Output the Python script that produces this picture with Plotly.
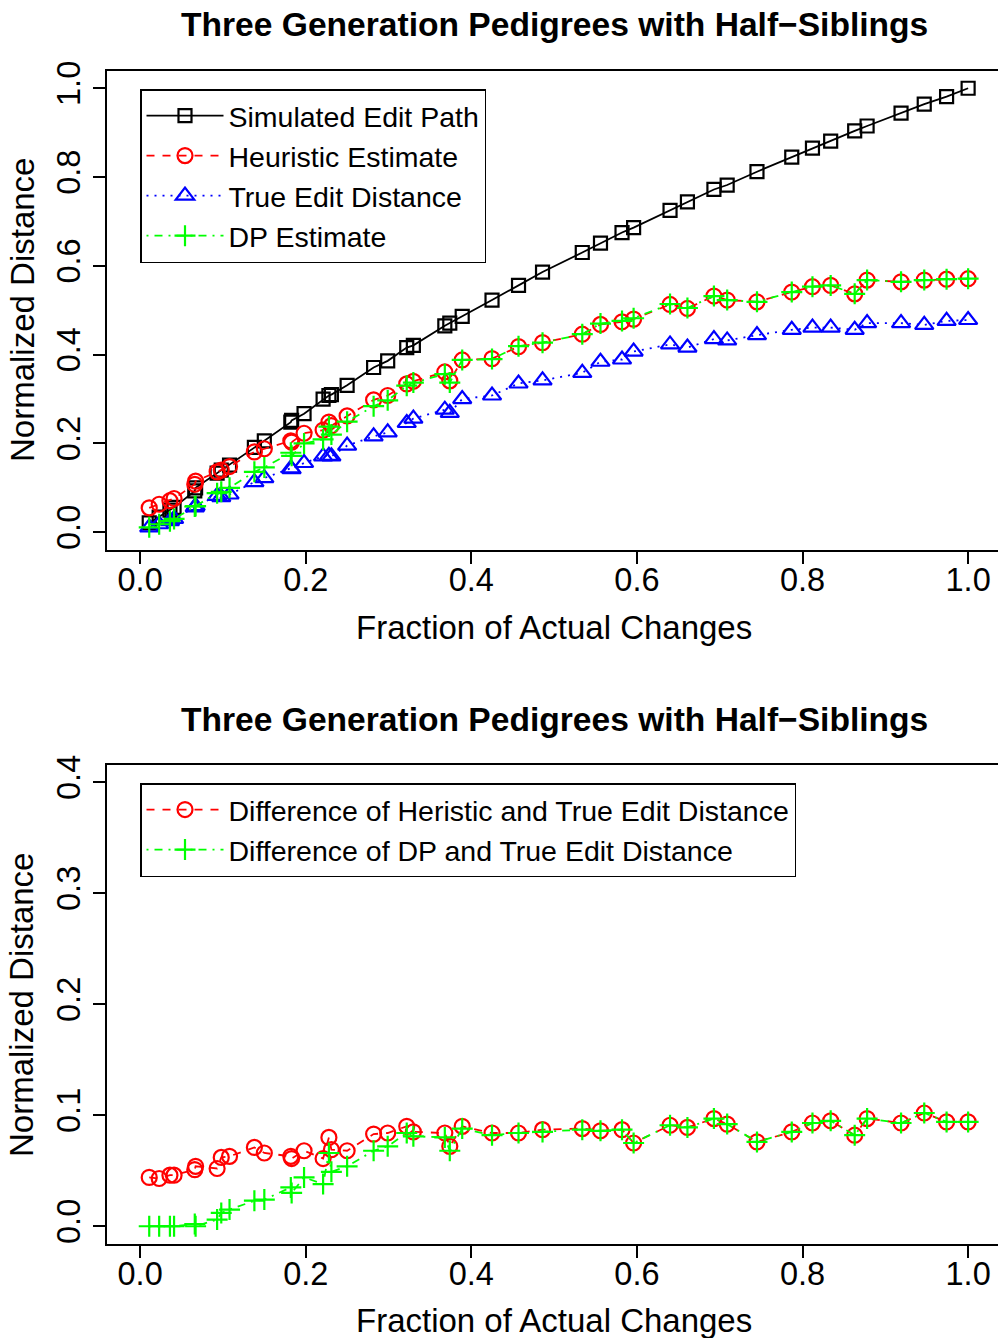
import plotly.graph_objects as go

# ---------------- data ----------------
frac_changes = [0.011, 0.023, 0.036, 0.041, 0.066, 0.067, 0.093, 0.098, 0.108, 0.138,
                0.150, 0.182, 0.183, 0.198, 0.221, 0.228, 0.231, 0.250, 0.282, 0.299,
                0.322, 0.330, 0.368, 0.374, 0.389, 0.425, 0.457, 0.486, 0.534, 0.556,
                0.582, 0.596, 0.640, 0.661, 0.693, 0.709, 0.745, 0.787, 0.812, 0.834,
                0.863, 0.878, 0.919, 0.947, 0.974, 1.000]

simulated_edit_path = [0.021, 0.034, 0.050, 0.056, 0.093, 0.100, 0.133, 0.140, 0.151, 0.191,
                       0.206, 0.248, 0.252, 0.267, 0.300, 0.308, 0.310, 0.331, 0.371, 0.386,
                       0.416, 0.421, 0.465, 0.471, 0.486, 0.523, 0.556, 0.586, 0.630, 0.651,
                       0.675, 0.686, 0.725, 0.744, 0.772, 0.782, 0.812, 0.845, 0.865, 0.881,
                       0.904, 0.915, 0.944, 0.964, 0.981, 1.000]

heuristic_estimate = [0.055, 0.063, 0.071, 0.076, 0.108, 0.115, 0.136, 0.140, 0.148, 0.181,
                      0.188, 0.206, 0.203, 0.223, 0.230, 0.248, 0.240, 0.262, 0.298, 0.308,
                      0.334, 0.340, 0.361, 0.341, 0.388, 0.391, 0.418, 0.427, 0.446, 0.468,
                      0.474, 0.480, 0.513, 0.504, 0.532, 0.523, 0.519, 0.541, 0.553, 0.556,
                      0.537, 0.568, 0.564, 0.568, 0.570, 0.571]

true_edit_distance = [0.011, 0.018, 0.025, 0.030, 0.056, 0.059, 0.082, 0.079, 0.085, 0.113,
                      0.122, 0.144, 0.142, 0.156, 0.171, 0.172, 0.171, 0.195, 0.216, 0.225,
                      0.246, 0.256, 0.276, 0.269, 0.300, 0.308, 0.335, 0.342, 0.359, 0.384,
                      0.389, 0.407, 0.423, 0.416, 0.435, 0.432, 0.444, 0.456, 0.461, 0.461,
                      0.456, 0.471, 0.471, 0.467, 0.476, 0.478]

dp_estimate = [0.011, 0.018, 0.025, 0.030, 0.058, 0.059, 0.088, 0.091, 0.100, 0.136,
               0.146, 0.179, 0.172, 0.200, 0.209, 0.238, 0.220, 0.249, 0.284, 0.297,
               0.330, 0.337, 0.356, 0.337, 0.388, 0.390, 0.419, 0.427, 0.446, 0.470,
               0.476, 0.482, 0.514, 0.505, 0.532, 0.523, 0.519, 0.541, 0.553, 0.556,
               0.537, 0.568, 0.564, 0.568, 0.570, 0.571]

diff_heuristic_true = [0.044, 0.043, 0.046, 0.046, 0.051, 0.054, 0.052, 0.062, 0.063, 0.071,
                       0.066, 0.063, 0.061, 0.068, 0.061, 0.080, 0.069, 0.068, 0.083, 0.084,
                       0.090, 0.085, 0.084, 0.072, 0.090, 0.084, 0.084, 0.087, 0.088, 0.086,
                       0.087, 0.075, 0.091, 0.089, 0.097, 0.092, 0.076, 0.085, 0.093, 0.095,
                       0.082, 0.097, 0.093, 0.102, 0.094, 0.094]

diff_dp_true = [0.000, 0.000, 0.000, 0.000, 0.002, 0.000, 0.006, 0.012, 0.015, 0.023,
                0.024, 0.035, 0.030, 0.044, 0.038, 0.066, 0.049, 0.054, 0.068, 0.072,
                0.084, 0.081, 0.080, 0.068, 0.088, 0.082, 0.084, 0.085, 0.087, 0.086,
                0.087, 0.075, 0.091, 0.089, 0.097, 0.092, 0.076, 0.085, 0.093, 0.095,
                0.082, 0.097, 0.093, 0.102, 0.094, 0.094]

top_names = ["Simulated Edit Path", "Heuristic Estimate", "True Edit Distance", "DP Estimate"]
bottom_names = ["Difference of Heristic and True Edit Distance",
                "Difference of DP and True Edit Distance"]
title_text = "Three Generation Pedigrees with Half\u2212Siblings"
x_title = "Fraction of Actual Changes"
y_title = "Normalized Distance"
x_ticks = [0.0, 0.2, 0.4, 0.6, 0.8, 1.0]
y_ticks_top = [0.0, 0.2, 0.4, 0.6, 0.8, 1.0]
y_ticks_bottom = [0.0, 0.1, 0.2, 0.3, 0.4]

# ---------------- styling ----------------
FONT = "Liberation Sans, Arial, Helvetica, sans-serif"
W, H = 998, 1338
BLACK, RED, BLUE, GREEN = "#000000", "#FF0000", "#0000FF", "#00FF00"
LW = 1.8

styles = {
    "black": dict(color=BLACK, dash="solid", symbol="square-open", size=13),
    "red": dict(color=RED, dash="8px,8px", symbol="circle-open", size=15),
    "blue": dict(color=BLUE, dash="2px,6px", symbol="triangle-up-open", size=16),
    "green": dict(color=GREEN, dash="2px,6px,8px,6px", symbol="cross-thin-open", size=15),
}


def trace(x, y, name, st, xa, ya, legend):
    return go.Scatter(
        x=x, y=y, name=name, mode="lines+markers",
        xaxis=xa, yaxis=ya, legend=legend,
        line=dict(color=st["color"], width=LW, dash=st["dash"]),
        marker=dict(symbol=st["symbol"], size=st["size"], color=st["color"],
                    line=dict(color=st["color"], width=2.2)),
    )


fig = go.Figure()
fig.add_trace(trace(frac_changes, simulated_edit_path, top_names[0], styles["black"], "x", "y", "legend"))
fig.add_trace(trace(frac_changes, heuristic_estimate, top_names[1], styles["red"], "x", "y", "legend"))
fig.add_trace(trace(frac_changes, true_edit_distance, top_names[2], styles["blue"], "x", "y", "legend"))
fig.add_trace(trace(frac_changes, dp_estimate, top_names[3], styles["green"], "x", "y", "legend"))
fig.add_trace(trace(frac_changes, diff_heuristic_true, bottom_names[0], styles["red"], "x2", "y2", "legend2"))
fig.add_trace(trace(frac_changes, diff_dp_true, bottom_names[1], styles["green"], "x2", "y2", "legend2"))

# pixel geometry of the two plot regions
x_left_px = 107
top_box = (71, 550)
bot_box = (765, 1244)
x_dom = [x_left_px / W, 1.0]
x_range = [-0.04, -0.04 + (W - x_left_px) / 828.0]


def ydom(box):
    return [1 - box[1] / H, 1 - box[0] / H]


axis_common = dict(
    showgrid=False, zeroline=False, showline=True, linecolor=BLACK, linewidth=1.5,
    ticks="outside", ticklen=12, tickwidth=1.5, tickcolor=BLACK,
    tickfont=dict(family=FONT, size=32.5, color=BLACK),
    tickformat=".1f", automargin=False,
)

fig.update_layout(
    template="none",
    width=W, height=H, autosize=False,
    margin=dict(l=0, r=0, t=0, b=0, pad=0),
    paper_bgcolor="white", plot_bgcolor="white",
    xaxis=dict(domain=x_dom, range=x_range, tickvals=x_ticks, mirror=True, anchor="y",
               ticklabelstandoff=-12, **axis_common),
    yaxis=dict(domain=ydom(top_box), range=[-0.04, -0.04 + (top_box[1] - top_box[0]) / 444.0],
               tickvals=y_ticks_top, tickangle=-90, anchor="x", **axis_common),
    xaxis2=dict(domain=x_dom, range=x_range, tickvals=x_ticks, mirror=True, anchor="y2",
                ticklabelstandoff=-12, **axis_common),
    yaxis2=dict(domain=ydom(bot_box), range=[-0.016, -0.016 + (bot_box[1] - bot_box[0]) / 1110.0],
                tickvals=y_ticks_bottom, tickangle=-90, anchor="x2", **axis_common),
    legend=dict(x=140 / W, y=1 - 89 / H, xanchor="left", yanchor="top",
                bordercolor=BLACK, borderwidth=1.5, bgcolor="white",
                font=dict(family=FONT, size=28.5, color=BLACK), itemwidth=77,
                tracegroupgap=0),
    legend2=dict(x=140 / W, y=1 - 783 / H, xanchor="left", yanchor="top",
                 bordercolor=BLACK, borderwidth=1.5, bgcolor="white",
                 font=dict(family=FONT, size=28.5, color=BLACK), itemwidth=77,
                 tracegroupgap=0),
    showlegend=True,
)

annotations = []
for cy_title, cy_xlab, cy_ylab in [(25, 627, 310), (719, 1320, 1005)]:
    annotations.append(dict(text=title_text, x=554 / W, y=1 - cy_title / H, xref="paper", yref="paper",
                            xanchor="center", yanchor="middle", showarrow=False,
                            font=dict(family=FONT, size=33.6, color=BLACK, weight="bold")))
    annotations.append(dict(text=x_title, x=554 / W, y=1 - cy_xlab / H, xref="paper", yref="paper",
                            xanchor="center", yanchor="middle", showarrow=False,
                            font=dict(family=FONT, size=33, color=BLACK)))
    annotations.append(dict(text=y_title, x=22 / W, y=1 - cy_ylab / H, xref="paper", yref="paper",
                            xanchor="center", yanchor="middle", showarrow=False, textangle=-90,
                            font=dict(family=FONT, size=33, color=BLACK)))
fig.update_layout(annotations=annotations)

fig.write_html(
    "out.html",
    config={"displayModeBar": False},
    post_script="document.body.style.margin='0';document.body.style.padding='0';"
                "document.documentElement.style.overflow='hidden';",
)
